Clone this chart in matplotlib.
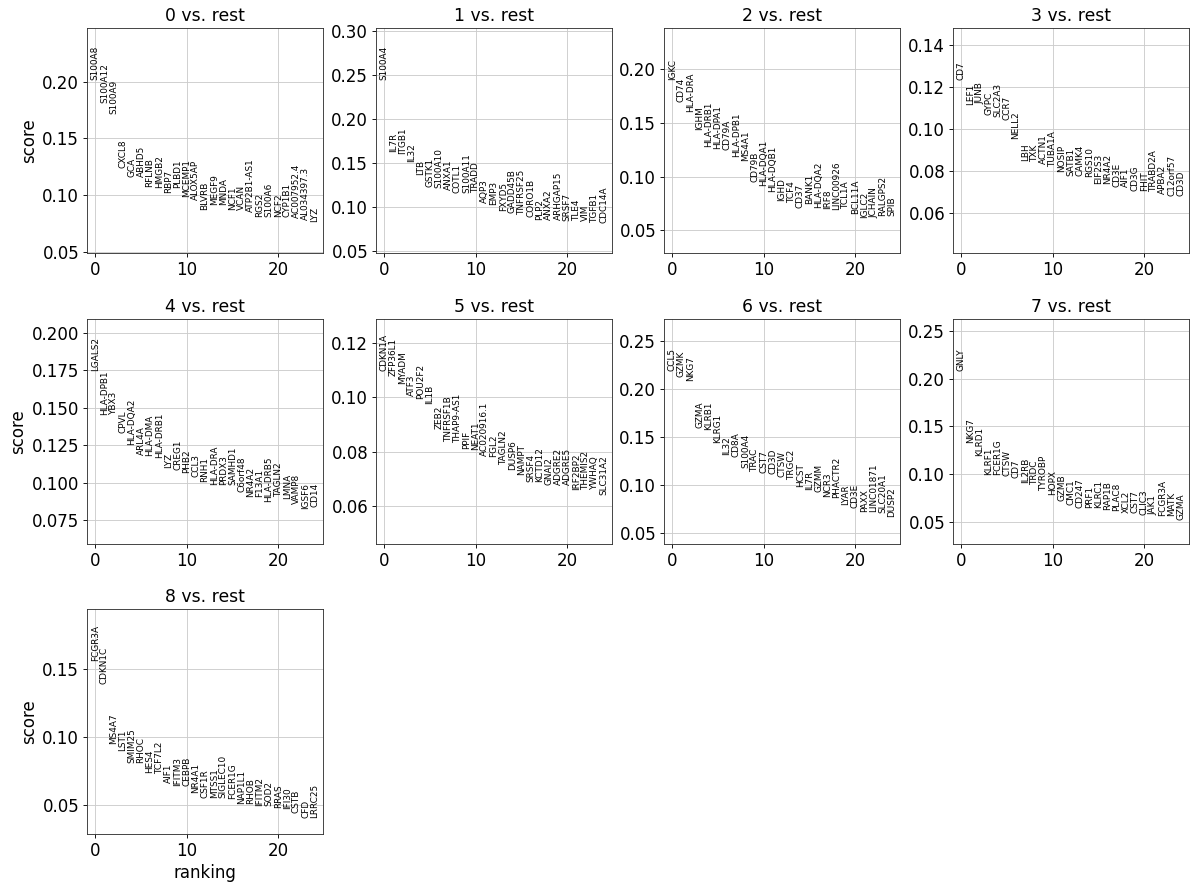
import matplotlib
matplotlib.use("Agg")
import matplotlib.pyplot as plt
from matplotlib.ticker import MultipleLocator

groups = ["0", "1", "2", "3", "4", "5", "6", "7", "8"]

names_0 = ["S100A8", "S100A12", "S100A9", "CXCL8", "GCA", "ABHD5", "RFLNB", "HMGB2", "RBP7", "PLBD1",
           "MCEMP1", "ALOX5AP", "BLVRB", "MEGF9", "MNDA", "NCF1", "VCAN", "ATP2B1-AS1", "RGS2", "S100A6",
           "NCF2", "CYP1B1", "AC007952.4", "AL034397.3", "LYZ"]
scores_0 = [0.2015, 0.1809, 0.1712, 0.1235, 0.1156, 0.1156, 0.1074, 0.1059, 0.1015, 0.1059,
            0.0986, 0.0956, 0.0868, 0.0912, 0.0912, 0.0868, 0.0868, 0.0853, 0.0809, 0.0809,
            0.0809, 0.0809, 0.0794, 0.0780, 0.0765]

names_1 = ["S100A4", "IL7R", "ITGB1", "IL32", "LTB", "GSTK1", "S100A10", "ANXA1", "COTL1", "S100A11",
           "TRADD", "AQP3", "EMP3", "FXYD5", "GADD45B", "TNFRSF25", "CORO1B", "PLP2", "ANXA2", "ARHGAP15",
           "SRSF7", "TLE4", "VIM", "TGFB1", "CDC14A"]
scores_1 = [0.2444, 0.1628, 0.1609, 0.1515, 0.1364, 0.1233, 0.1214, 0.1195, 0.1158, 0.1158,
            0.1158, 0.1045, 0.1026, 0.0951, 0.0932, 0.0913, 0.0894, 0.0857, 0.0857, 0.0857,
            0.0846, 0.0838, 0.0838, 0.0819, 0.0819]

names_2 = ["IGKC", "CD74", "HLA-DRA", "IGHM", "HLA-DRB1", "HLA-DPA1", "CD79A", "HLA-DPB1", "MS4A1", "CD79B",
           "HLA-DQA1", "HLA-DQB1", "IGHD", "TCF4", "CD37", "BANK1", "HLA-DQA2", "IRF8", "LINC00926", "TCL1A",
           "BCL11A", "IGLC2", "JCHAIN", "RALGPS2", "SPIB"]
scores_2 = [0.1900, 0.1697, 0.1597, 0.1431, 0.1275, 0.1259, 0.1244, 0.1181, 0.1150, 0.0947,
            0.0916, 0.0862, 0.0775, 0.0759, 0.0713, 0.0744, 0.0713, 0.0697, 0.0688, 0.0697,
            0.0650, 0.0619, 0.0619, 0.0634, 0.0634]

names_3 = ["CD7", "LEF1", "JUNB", "GYPC", "SLC2A3", "CCR7", "NELL2", "LBH", "TXK", "ACTN1",
           "TUBA1A", "NOSIP", "SATB1", "CAMK4", "RGS10", "EIF2S3", "NR4A2", "CD3E", "AIF1", "CD3G",
           "FHIT", "TRABD2A", "APBA2", "C12orf57", "CD3D"]
scores_3 = [0.1232, 0.1112, 0.1120, 0.1064, 0.1057, 0.1041, 0.0953, 0.0849, 0.0841, 0.0833,
            0.0817, 0.0793, 0.0778, 0.0778, 0.0770, 0.0738, 0.0738, 0.0722, 0.0722, 0.0706,
            0.0706, 0.0698, 0.0690, 0.0682, 0.0682]

names_4 = ["LGALS2", "HLA-DPB1", "YBX3", "CPVL", "HLA-DQA2", "ARL4A", "HLA-DMA", "HLA-DRB1", "LYZ", "CREG1",
           "PHB2", "CCL3", "RNH1", "HLA-DRA", "PRDX3", "SAMHD1", "C6orf48", "NR4A2", "F13A1", "HLA-DRB5",
           "TAGLN2", "LMNA", "VAMP8", "IGSF6", "CD14"]
scores_4 = [0.1747, 0.1455, 0.1455, 0.1332, 0.1253, 0.1186, 0.1175, 0.1163, 0.1096, 0.1085,
            0.1062, 0.1040, 0.1006, 0.0984, 0.0984, 0.0984, 0.0939, 0.0905, 0.0905, 0.0872,
            0.0905, 0.0894, 0.0860, 0.0827, 0.0838]

names_5 = ["CDKN1A", "ZFP36L1", "MYADM", "ATF3", "POU2F2", "IL1B", "ZEB2", "TNFRSF1B", "THAP9-AS1", "PPIF",
           "NEAT1", "AC020916.1", "FGL2", "TAGLN2", "DUSP6", "NAMPT", "SRSF4", "KCTD12", "GNAI2", "ADGRE2",
           "ADGRE5", "IRF2BP2", "THEMIS2", "YWHAQ", "SLC31A2"]
scores_5 = [0.1097, 0.1079, 0.1049, 0.1006, 0.0994, 0.0976, 0.0884, 0.0836, 0.0830, 0.0811,
            0.0805, 0.0783, 0.0781, 0.0751, 0.0732, 0.0714, 0.0690, 0.0690, 0.0677, 0.0677,
            0.0677, 0.0659, 0.0659, 0.0659, 0.0641]

names_6 = ["CCL5", "GZMK", "NKG7", "GZMA", "KLRB1", "KLRG1", "IL32", "CD8A", "S100A4", "TRAC",
           "CST7", "CD3D", "CTSW", "TRGC2", "HCST", "IL7R", "GZMM", "NCR3", "PHACTR2", "LYAR",
           "CD3E", "PAXX", "LINC01871", "SLC20A1", "DUSP2"]
scores_6 = [0.2187, 0.2128, 0.2083, 0.1591, 0.1574, 0.1435, 0.1314, 0.1296, 0.1175, 0.1140,
            0.1123, 0.1113, 0.1088, 0.1054, 0.0984, 0.0950, 0.0932, 0.0880, 0.0863, 0.0794,
            0.0759, 0.0725, 0.0725, 0.0707, 0.0673]

names_7 = ["GNLY", "NKG7", "KLRD1", "KLRF1", "FCER1G", "CTSW", "CD7", "IL2RB", "TRDC", "TYROBP",
           "HOPX", "GZMB", "CMC1", "CD247", "PRF1", "KLRC1", "RAP1B", "PLAC8", "XCL2", "CST7",
           "CLIC3", "JAK1", "FCGR3A", "MATK", "GZMA"]
scores_7 = [0.2080, 0.1329, 0.1189, 0.0996, 0.0996, 0.0979, 0.0961, 0.0909, 0.0891, 0.0822,
            0.0787, 0.0717, 0.0682, 0.0647, 0.0647, 0.0647, 0.0629, 0.0612, 0.0594, 0.0594,
            0.0577, 0.0577, 0.0559, 0.0559, 0.0524]

names_8 = ["FCGR3A", "CDKN1C", "MS4A7", "LST1", "SMIM25", "RHOC", "HES4", "TCF7L2", "AIF1", "IFITM3",
           "CEBPB", "NR4A1", "CSF1R", "MTSS1", "SIGLEC10", "FCER1G", "NAP1L1", "RHOB", "IFITM2", "SOD2",
           "RRAS", "IFI30", "CSTB", "CFD", "LRRC25"]
scores_8 = [0.1561, 0.1395, 0.0954, 0.0900, 0.0814, 0.0814, 0.0741, 0.0728, 0.0667, 0.0642,
            0.0642, 0.0593, 0.0557, 0.0557, 0.0557, 0.0544, 0.0508, 0.0508, 0.0495, 0.0495,
            0.0483, 0.0471, 0.0446, 0.0410, 0.0410]

# lower y limit of each panel (upper limit follows scanpy's rule)
y_lower = [0.049, 0.048, 0.029, 0.041, 0.059, 0.046, 0.039, 0.027, 0.029]
# y tick spacing of each panel
y_step = [0.05, 0.05, 0.05, 0.02, 0.025, 0.02, 0.05, 0.05, 0.05]

all_names = [names_0, names_1, names_2, names_3, names_4, names_5, names_6, names_7, names_8]
all_scores = [scores_0, scores_1, scores_2, scores_3, scores_4, scores_5, scores_6, scores_7, scores_8]

plt.rcParams.update({
    "font.family": ["DejaVu Sans"],
    "font.size": 15,
    "axes.titlesize": 15.5,
    "axes.labelsize": 15,
    "xtick.labelsize": 15,
    "ytick.labelsize": 15,
    "axes.linewidth": 0.8,
    "axes.edgecolor": "#333333",
    "axes.grid": True,
    "grid.color": "0.8",
    "grid.linewidth": 0.8,
})

W, H = 1200, 888
fig = plt.figure(figsize=(15, 11.1), dpi=80)

lefts = [87, 376, 664, 953]
tops = [28, 319, 609]
aw, ah = 236, 225

ncols = 4
nrows = 3
for i, g in enumerate(groups):
    r, c = divmod(i, ncols)
    ax = fig.add_axes([lefts[c] / W, 1 - (tops[r] + ah) / H, aw / W, ah / H])
    names = all_names[i]
    scores = all_scores[i]
    ymin = y_lower[i]
    ymax = max(scores)
    ax.set_ylim(ymin, ymax + 0.3 * (ymax - ymin))
    ax.set_xlim(-0.9, len(names) - 0.1)
    ax.yaxis.set_major_locator(MultipleLocator(y_step[i]))
    for ig, name in enumerate(names):
        ax.text(ig, scores[ig], name, rotation="vertical", va="bottom", ha="center",
                fontsize=8)
    ax.set_title(f"{g} vs. rest")
    ax.set_axisbelow(True)
    if c == 0:
        ax.set_ylabel("score")
    if i >= ncols * (nrows - 1):
        ax.set_xlabel("ranking")

fig.savefig("out.png", dpi=80)
